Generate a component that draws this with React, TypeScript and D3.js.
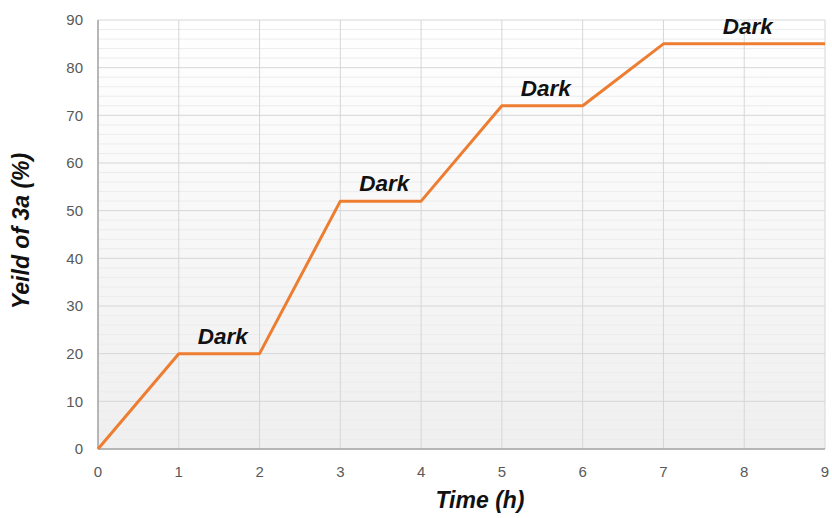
import React from "react";
import * as d3 from "d3";

const times = [0, 1, 2, 3, 4, 5, 6, 7, 8, 9];
const yields = [0, 20, 20, 52, 52, 72, 72, 85, 85, 85];
const xTicks = [0, 1, 2, 3, 4, 5, 6, 7, 8, 9];
const yTicks = [0, 10, 20, 30, 40, 50, 60, 70, 80, 90];
const labelX = [1.5, 3.5, 5.5, 8];
const labelY = [20, 52, 72, 85];
const labelText = "Dark";

const W = 832, H = 518;
const m = { left: 98, right: 825, top: 20, bottom: 449 };

export default function App() {
  const x = d3.scaleLinear().domain([0, 9]).range([m.left, m.right]);
  const y = d3.scaleLinear().domain([0, 90]).range([m.bottom, m.top]);
  const line = d3.line<number>().x((_, i) => x(times[i])).y((d) => y(d));
  const minor = d3.range(0, 91, 2).filter((v) => v % 10 !== 0);
  const font = "'Liberation Sans', Arial, sans-serif";
  return (
    <svg width={W} height={H} style={{ position: "absolute", left: 0, top: 0, background: "#fff" }}>
      <defs>
        <linearGradient id="bg" x1="0" y1="0" x2="0" y2="1">
          <stop offset="0" stopColor="#ffffff" />
          <stop offset="1" stopColor="#efefef" />
        </linearGradient>
      </defs>
      <rect x={m.left} y={m.top} width={m.right - m.left} height={m.bottom - m.top} fill="url(#bg)" />
      {minor.map((v) => (
        <line key={"mn" + v} x1={m.left} x2={m.right} y1={y(v)} y2={y(v)} stroke="#ececec" strokeWidth={1} />
      ))}
      {yTicks.map((v) => (
        <line key={"mj" + v} x1={m.left} x2={m.right} y1={y(v)} y2={y(v)} stroke="#d6d6d6" strokeWidth={1} />
      ))}
      {xTicks.map((v) => (
        <line key={"vx" + v} x1={x(v)} x2={x(v)} y1={m.top} y2={m.bottom} stroke="#d6d6d6" strokeWidth={1} />
      ))}
      <line x1={m.left} x2={m.left} y1={m.top} y2={m.bottom} stroke="#a6a6a6" strokeWidth={1.5} />
      <line x1={m.left} x2={m.right} y1={m.bottom} y2={m.bottom} stroke="#a6a6a6" strokeWidth={1.5} />
      {yTicks.map((v) => (
        <text key={"yt" + v} x={m.left - 15} y={y(v)} dy="0.35em" textAnchor="end" fontFamily={font} fontSize={15} fill="#595959">
          {v}
        </text>
      ))}
      {xTicks.map((v) => (
        <text key={"xt" + v} x={x(v)} y={m.bottom + 23} dy="0.35em" textAnchor="middle" fontFamily={font} fontSize={15} fill="#595959">
          {v}
        </text>
      ))}
      <path d={line(yields) || ""} fill="none" stroke="#ED7D31" strokeWidth={3} strokeLinejoin="round" />
      {labelX.map((lx, i) => (
        <text key={"lb" + i} x={x(lx) + 3.5} y={y(labelY[i]) - 10} textAnchor="middle" fontFamily={font} fontSize={22.5} fontWeight="bold" fontStyle="italic" fill="#111">
          {labelText}
        </text>
      ))}
      <text x={480} y={508} textAnchor="middle" fontFamily={font} fontSize={23} fontWeight="bold" fontStyle="italic" fill="#111">
        Time (h)
      </text>
      <text transform={`translate(29,231) rotate(-90)`} textAnchor="middle" fontFamily={font} fontSize={23} fontWeight="bold" fontStyle="italic" fill="#111">
        Yeild of 3a (%)
      </text>
    </svg>
  );
}
